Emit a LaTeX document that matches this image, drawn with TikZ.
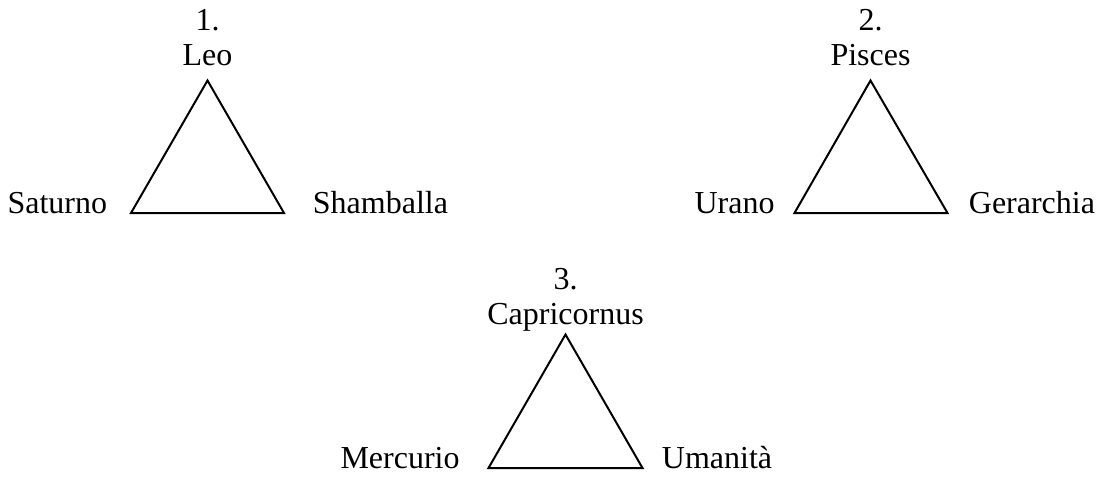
\documentclass[tikz,border=0pt]{standalone}
\usepackage{fontspec}
\setmainfont{Liberation Serif}
\begin{document}
\begin{tikzpicture}[x=0.5pt,y=-0.5pt,
  lbl/.style={inner sep=0pt,font=\fontsize{16}{19}\selectfont},
  tri/.style={line width=1pt,line join=miter}]
\useasboundingbox (0,0) rectangle (1102,477);
% triangle 1
\coordinate (a1) at (207.5,80.5);
\coordinate (b1) at (131,213);
\coordinate (c1) at (284,213);
\draw[tri] (a1) -- (b1) -- (c1) -- cycle;
\node[lbl,anchor=base] (n1) at (207.5,30.5) {1.};
\node[lbl,anchor=base] (t1) at (207.5,65.5) {Leo};
\node[lbl,anchor=base east] (l1) at (107.5,213) {Saturno};
\node[lbl,anchor=base west] (r1) at (312.5,213) {Shamballa};
% triangle 2
\coordinate (a2) at (870.5,80.5);
\coordinate (b2) at (794.5,213);
\coordinate (c2) at (947.5,213);
\draw[tri] (a2) -- (b2) -- (c2) -- cycle;
\node[lbl,anchor=base] (n2) at (870.5,30.5) {2.};
\node[lbl,anchor=base] (t2) at (870.5,65.5) {Pisces};
\node[lbl,anchor=base east] (l2) at (775,213) {Urano};
\node[lbl,anchor=base west] (r2) at (968.5,213) {Gerarchia};
% triangle 3
\coordinate (a3) at (565.5,334.5);
\coordinate (b3) at (488.5,468);
\coordinate (c3) at (642.5,468);
\draw[tri] (a3) -- (b3) -- (c3) -- cycle;
\node[lbl,anchor=base] (n3) at (565.5,289) {3.};
\node[lbl,anchor=base] (t3) at (565.5,324.5) {Capricornus};
\node[lbl,anchor=base east] (l3) at (460,468) {Mercurio};
\node[lbl,anchor=base west] (r3) at (661.5,468) {Umanità};
\end{tikzpicture}
\end{document}
